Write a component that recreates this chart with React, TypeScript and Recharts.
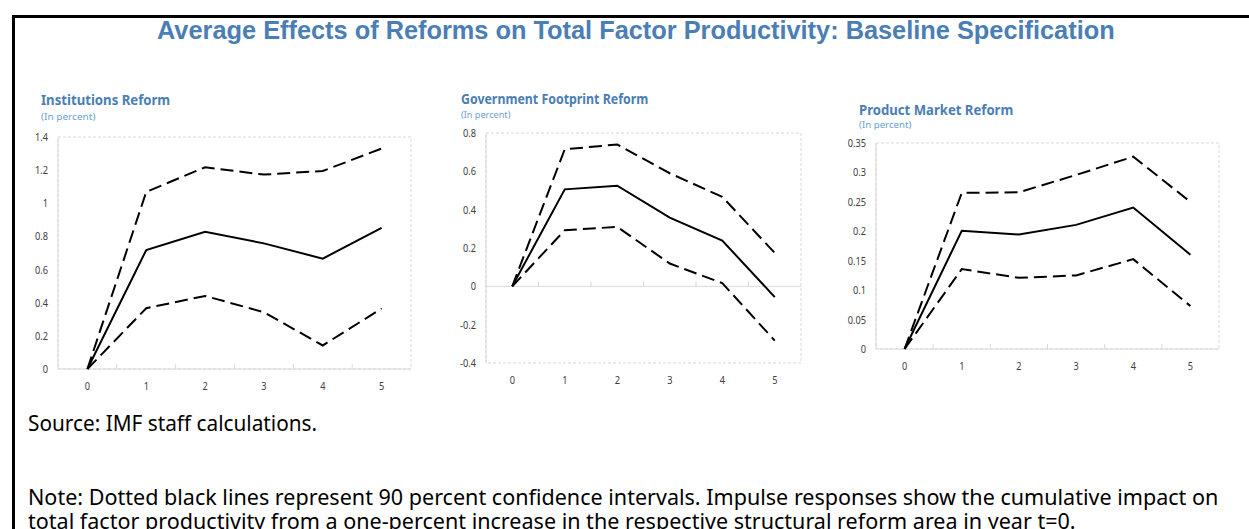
import React, { useLayoutEffect, useRef, useState } from 'react';
import { LineChart, Line, XAxis, YAxis, ReferenceLine, ReferenceArea } from 'recharts';

// ---------- data ----------
const years = [0, 1, 2, 3, 4, 5];
const boundaries = [0.5, 1.5, 2.5, 3.5, 4.5];

const instEstimate = [0, 0.718, 0.828, 0.758, 0.666, 0.852];
const instUpper = [0, 1.069, 1.217, 1.173, 1.195, 1.33];
const instLower = [0, 0.367, 0.441, 0.343, 0.142, 0.365];
const instTicks = [0, 0.2, 0.4, 0.6, 0.8, 1, 1.2, 1.4];

const govEstimate = [0, 0.506, 0.525, 0.358, 0.239, -0.056];
const govUpper = [0, 0.715, 0.74, 0.59, 0.467, 0.174];
const govLower = [0, 0.293, 0.31, 0.119, 0.017, -0.283];
const govTicks = [-0.4, -0.2, 0, 0.2, 0.4, 0.6, 0.8];

const pmEstimate = [0, 0.2007, 0.1945, 0.2109, 0.2403, 0.16];
const pmUpper = [0, 0.2652, 0.2663, 0.2957, 0.3268, 0.2499];
const pmLower = [0, 0.1357, 0.121, 0.125, 0.1527, 0.0729];
const pmTicks = [0, 0.05, 0.1, 0.15, 0.2, 0.25, 0.3, 0.35];

const mainTitle = 'Average Effects of Reforms on Total Factor Productivity: Baseline Specification';
const sourceText = 'Source: IMF staff calculations.';
const noteLines = [
  'Note: Dotted black lines represent 90 percent confidence intervals. Impulse responses show the cumulative impact on',
  'total factor productivity from a one-percent increase in the respective structural reform area in year t=0.',
];

const BLUE = '#4a7eb4';
const SUB_BLUE = '#6c9fd0';
const GRID = '#d9d9d9';
const TICK_FONT = '"Noto Sans", sans-serif';

// ---------- helpers ----------
type FitProps = {
  left: number;
  top: number;
  width: number;
  fontSize: number;
  lineHeight: number;
  fontFamily: string;
  fontWeight?: number | string;
  color: string;
  lines: string[];
};

function FitText({ left, top, width, fontSize, lineHeight, fontFamily, fontWeight = 400, color, lines }: FitProps) {
  const ref = useRef<HTMLSpanElement>(null);
  const [scale, setScale] = useState(1);
  useLayoutEffect(() => {
    const measure = () => {
      if (ref.current) {
        const w = ref.current.offsetWidth;
        if (w > 0) setScale(width / w);
      }
    };
    measure();
    if ((document as any).fonts && (document as any).fonts.ready) {
      (document as any).fonts.ready.then(measure);
    }
  }, [width]);
  return (
    <div
      style={{
        position: 'absolute',
        left,
        top,
        fontSize,
        lineHeight: `${lineHeight}px`,
        fontFamily,
        fontWeight,
        color,
        whiteSpace: 'nowrap',
        transform: `scaleX(${scale})`,
        transformOrigin: '0 0',
      }}
    >
      {lines.map((l, i) => (
        <div key={i} style={{ height: lineHeight }}>
          <span ref={i === 0 ? ref : undefined} style={{ display: 'inline-block' }}>
            {l}
          </span>
        </div>
      ))}
    </div>
  );
}

const fmt = (v: number) => String(Number(v.toFixed(2)));

const YTick = (props: any) => {
  const { x, y, payload } = props;
  return (
    <g transform={`translate(${x},${y}) scale(0.8,1)`}>
      <text x={0} y={0} dy="0.35em" textAnchor="end" fontSize={11.5} fontFamily={TICK_FONT} fill="#404040">
        {fmt(payload.value)}
      </text>
    </g>
  );
};

const XTick = (props: any) => {
  const { x, y, payload } = props;
  return (
    <g transform={`translate(${x},${y}) scale(0.8,1)`}>
      <text x={0} y={0} dy="0.35em" textAnchor="middle" fontSize={11.5} fontFamily={TICK_FONT} fill="#404040">
        {payload.value}
      </text>
    </g>
  );
};

type PanelProps = {
  left: number;
  top: number;
  width: number;
  height: number;
  margin: { top: number; right: number; bottom: number; left: number };
  estimate: number[];
  upper: number[];
  lower: number[];
  ticks: number[];
  tickLen: number;
};

function Panel({ left, top, width, height, margin, estimate, upper, lower, ticks, tickLen }: PanelProps) {
  const data = years.map((yr, i) => ({ year: yr, estimate: estimate[i], upper: upper[i], lower: lower[i] }));
  const yMin = ticks[0];
  const yMax = ticks[ticks.length - 1];
  return (
    <div style={{ position: 'absolute', left, top }}>
      <LineChart width={width} height={height} data={data} margin={margin}>
        <XAxis
          dataKey="year"
          type="number"
          domain={[-0.5, 5.5]}
          ticks={years}
          interval={0}
          axisLine={false}
          tickLine={false}
          tickSize={6}
          tickMargin={11}
          height={30}
          tick={<XTick />}
        />
        <YAxis
          type="number"
          domain={[yMin, yMax]}
          ticks={ticks}
          interval={0}
          axisLine={false}
          tickLine={false}
          tickSize={6}
          tickMargin={4}
          width={50}
          tick={<YTick />}
        />
        <ReferenceArea
          x1={-0.5}
          x2={5.5}
          y1={yMin}
          y2={yMax}
          fill="none"
          fillOpacity={0}
          stroke={GRID}
          strokeDasharray="3 2"
        />
        <ReferenceLine x={-0.5} stroke={GRID} />
        <ReferenceLine y={0} stroke={GRID} />
        {boundaries.map((b) => (
          <ReferenceLine
            key={b}
            segment={[
              { x: b, y: 0 },
              { x: b, y: tickLen },
            ]}
            stroke={GRID}
          />
        ))}
        <Line dataKey="upper" stroke="#000" strokeWidth={2} strokeDasharray="13 6" dot={false} isAnimationActive={false} type="linear" />
        <Line dataKey="lower" stroke="#000" strokeWidth={2} strokeDasharray="13 6" dot={false} isAnimationActive={false} type="linear" />
        <Line dataKey="estimate" stroke="#000" strokeWidth={2} dot={false} isAnimationActive={false} type="linear" />
      </LineChart>
    </div>
  );
}

function PanelTitle({ left, top, title, titleWidth, subTop, subWidth }: { left: number; top: number; title: string; titleWidth: number; subTop: number; subWidth: number }) {
  return (
    <>
      <FitText
        left={left}
        top={top}
        width={titleWidth}
        fontSize={15}
        lineHeight={18}
        fontFamily='"Noto Sans", sans-serif'
        fontWeight={700}
        color={BLUE}
        lines={[title]}
      />
      <FitText
        left={left}
        top={subTop}
        width={subWidth}
        fontSize={9.5}
        lineHeight={11}
        fontFamily='"Noto Sans", sans-serif'
        color={SUB_BLUE}
        lines={['(In percent)']}
      />
    </>
  );
}

export default function App() {
  return (
    <div
      style={{
        position: 'absolute',
        left: 0,
        top: 0,
        width: 1249,
        height: 529,
        overflow: 'hidden',
        background: '#fff',
      }}
    >
      <div
        style={{
          position: 'absolute',
          left: 12,
          top: 15,
          width: 1300,
          height: 600,
          border: '3px solid #000',
          boxSizing: 'border-box',
        }}
      />
      <FitText
        left={157}
        top={15.5}
        width={958}
        fontSize={25}
        lineHeight={28}
        fontFamily='"Liberation Sans", Arial, sans-serif'
        fontWeight={700}
        color={BLUE}
        lines={[mainTitle]}
      />

      <PanelTitle left={41} top={89.5} title="Institutions Reform" titleWidth={129} subTop={110.5} subWidth={54} />
      <PanelTitle left={460.5} top={88.5} title="Government Footprint Reform" titleWidth={187} subTop={109} subWidth={49} />
      <PanelTitle left={859} top={100} title="Product Market Reform" titleWidth={154} subTop={119} subWidth={52} />

      <Panel
        left={0}
        top={120}
        width={430}
        height={285}
        margin={{ top: 17, right: 19, bottom: 6, left: 8 }}
        estimate={instEstimate}
        upper={instUpper}
        lower={instLower}
        ticks={instTicks}
        tickLen={0.03}
      />
      <Panel
        left={430}
        top={116}
        width={390}
        height={280}
        margin={{ top: 17, right: 19, bottom: 3, left: 6 }}
        estimate={govEstimate}
        upper={govUpper}
        lower={govLower}
        ticks={govTicks}
        tickLen={0.026}
      />
      <Panel
        left={820}
        top={126}
        width={420}
        height={260}
        margin={{ top: 17, right: 21, bottom: 7, left: 6 }}
        estimate={pmEstimate}
        upper={pmUpper}
        lower={pmLower}
        ticks={pmTicks}
        tickLen={0.0085}
      />

      <FitText
        left={28}
        top={409.5}
        width={289}
        fontSize={22}
        lineHeight={24}
        fontFamily='"Noto Sans", sans-serif'
        color="#000"
        lines={[sourceText]}
      />
      <FitText
        left={28}
        top={485}
        width={1190}
        fontSize={21}
        lineHeight={24}
        fontFamily='"Noto Sans", sans-serif'
        color="#000"
        lines={noteLines}
      />
    </div>
  );
}
